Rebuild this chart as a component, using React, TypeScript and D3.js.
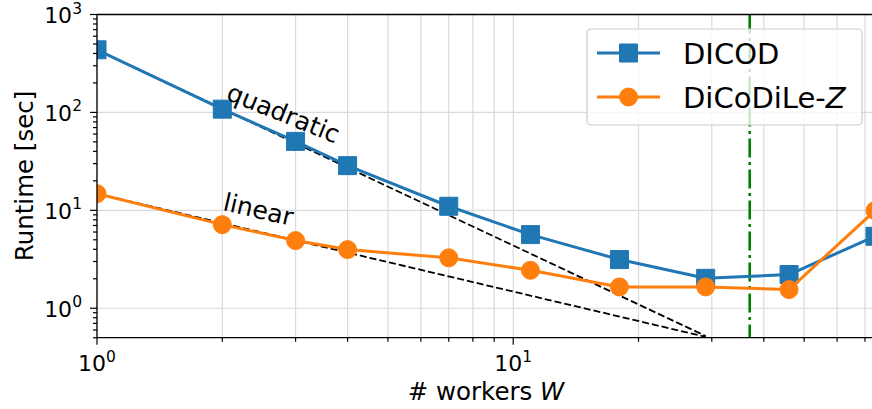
import React from "react";
import * as d3 from "d3";

// ---- data ----
const workers = [1, 2, 3, 4, 7, 11, 18, 29, 46, 74];
const dicod = [436, 108, 50.6, 28.6, 11.0, 5.65, 3.14, 2.02, 2.21, 5.43];
const dicodile = [14.8, 7.14, 4.91, 3.97, 3.27, 2.44, 1.65, 1.65, 1.55, 9.93];
const refX = [1, 29];
const quadraticRef = [436, 0.52];
const linearRef = [14.8, 0.51];
const vlineX = 37;
const xMajorTicks = [1, 10];
const xMajorExp = ["0", "1"];
const yMajorTicks = [1, 10, 100, 1000];
const yMajorExp = ["0", "1", "2", "3"];
const seriesNames = ["DICOD", "DiCoDiLe-"];

const W = 872;
const H = 409;
const L = 97;
const R = 875;
const T = 14.5;
const B = 337.7;
const FONT = "DejaVu Sans, sans-serif";
const BLUE = "#1f77b4";
const ORANGE = "#ff7f0e";

export default function App() {
  const x = d3.scaleLog().domain([1, 74]).range([L, R]);
  const y = d3.scaleLog().domain([0.5, 1000]).range([B, T]);
  const xAll = x.ticks().filter((v) => v >= 1 && v <= 74);
  const yAll = y.ticks().filter((v) => v >= 0.5 && v <= 1000);
  const isMajor = (v: number) => Math.abs(Math.log10(v) - Math.round(Math.log10(v))) < 1e-9;
  const xMinor = xAll.filter((v) => !isMajor(v));
  const yMinor = yAll.filter((v) => !isMajor(v));

  const line = d3
    .line<[number, number]>()
    .x((d) => x(d[0]))
    .y((d) => y(d[1]));
  const dicodPts = workers.map((w, i) => [w, dicod[i]] as [number, number]);
  const dicodilePts = workers.map((w, i) => [w, dicodile[i]] as [number, number]);
  const quadPts = refX.map((w, i) => [w, quadraticRef[i]] as [number, number]);
  const linPts = refX.map((w, i) => [w, linearRef[i]] as [number, number]);
  const sq = d3.symbol().type(d3.symbolSquare).size(18 * 18)();
  const ms = 18;

  return (
    <svg
      width={W}
      height={H}
      style={{ position: "absolute", left: 0, top: 0, background: "#fff" }}
      fontFamily={FONT}
    >
      <defs>
        <clipPath id="plot">
          <rect x={L} y={T} width={R - L} height={B - T} />
        </clipPath>
      </defs>
      <rect x={0} y={0} width={W} height={H} fill="#fff" />
      {/* grid */}
      <g stroke="#dadada" strokeWidth={1.2}>
        {xAll.map((v) => (
          <line key={"gx" + v} x1={x(v)} x2={x(v)} y1={T} y2={B} />
        ))}
        {yMajorTicks.map((v) => (
          <line key={"gy" + v} x1={L} x2={R} y1={y(v)} y2={y(v)} />
        ))}
      </g>
      <g clipPath="url(#plot)">
        {/* reference dashed lines */}
        <path d={line(quadPts) || ""} fill="none" stroke="#000" strokeWidth={1.8} strokeDasharray="7,3" />
        <path d={line(linPts) || ""} fill="none" stroke="#000" strokeWidth={1.8} strokeDasharray="7,3" />
        {/* vertical dash-dot line */}
        <line
          x1={x(vlineX)}
          x2={x(vlineX)}
          y1={T}
          y2={B}
          stroke="#008000"
          strokeWidth={2.6}
          strokeDasharray="19,4.5,3,4.5"
        />
        {/* DICOD */}
        <path d={line(dicodPts) || ""} fill="none" stroke={BLUE} strokeWidth={3} strokeLinejoin="round" />
        {dicodPts.map((p, i) => (
          <path key={"s" + i} d={sq || ""} transform={`translate(${x(p[0])},${y(p[1])})`} fill={BLUE} stroke={BLUE} strokeWidth={1} />
        ))}
        {/* DiCoDiLe-Z */}
        <path d={line(dicodilePts) || ""} fill="none" stroke={ORANGE} strokeWidth={3} strokeLinejoin="round" />
        {dicodilePts.map((p, i) => (
          <circle key={"c" + i} cx={x(p[0])} cy={y(p[1])} r={ms / 2} fill={ORANGE} stroke={ORANGE} strokeWidth={1} />
        ))}
      </g>
      {/* annotations */}
      <text transform={`translate(225,99) rotate(22)`} fontSize={25} fill="#000">
        quadratic
      </text>
      <text transform={`translate(222,210) rotate(13)`} fontSize={25} fill="#000">
        linear
      </text>
      {/* spines */}
      <g stroke="#000" strokeWidth={1.3} fill="none">
        <line x1={L} x2={L} y1={T} y2={B} />
        <line x1={L} x2={R} y1={B} y2={B} />
        <line x1={L} x2={R} y1={T} y2={T} />
        <line x1={R} x2={R} y1={T} y2={B} />
      </g>
      {/* ticks */}
      <g stroke="#000" strokeWidth={1.2}>
        {xMajorTicks.map((v) => (
          <line key={"xt" + v} x1={x(v)} x2={x(v)} y1={B} y2={B + 7} />
        ))}
        {xMinor.map((v) => (
          <line key={"xm" + v} x1={x(v)} x2={x(v)} y1={B} y2={B + 4} />
        ))}
        {yMajorTicks.map((v) => (
          <line key={"yt" + v} x1={L - 7} x2={L} y1={y(v)} y2={y(v)} />
        ))}
        {yMinor.map((v) => (
          <line key={"ym" + v} x1={L - 4} x2={L} y1={y(v)} y2={y(v)} />
        ))}
      </g>
      {/* tick labels */}
      <g fontSize={22} fill="#000">
        {xMajorTicks.map((v, i) => (
          <text key={"xl" + v} x={x(v)} y={371} textAnchor="middle">
            10
            <tspan fontSize={15.5} dy={-9.5}>
              {xMajorExp[i]}
            </tspan>
          </text>
        ))}
        {yMajorTicks.map((v, i) => (
          <text key={"yl" + v} x={82} y={y(v) + 8.5} textAnchor="end">
            10
            <tspan fontSize={15.5} dy={-9.5}>
              {yMajorExp[i]}
            </tspan>
          </text>
        ))}
      </g>
      {/* axis labels */}
      <text x={486} y={400} textAnchor="middle" fontSize={24.5} fill="#000">
        # workers <tspan fontStyle="italic">W</tspan>
      </text>
      <text transform="translate(33,176) rotate(-90)" textAnchor="middle" fontSize={24.5} fill="#000">
        Runtime [sec]
      </text>
      {/* legend */}
      <g>
        <rect x={587} y={29} width={275} height={96} rx={4} fill="#fff" fillOpacity={0.8} stroke="#cccccc" strokeWidth={1.2} />
        <line x1={597} x2={660} y1={53} y2={53} stroke={BLUE} strokeWidth={3} />
        <path d={sq || ""} transform="translate(628.5,53)" fill={BLUE} stroke={BLUE} strokeWidth={1} />
        <line x1={597} x2={660} y1={97} y2={97} stroke={ORANGE} strokeWidth={3} />
        <circle cx={628.5} cy={97} r={ms / 2} fill={ORANGE} stroke={ORANGE} strokeWidth={1} />
        <text x={683} y={63.5} fontSize={29} fill="#000">
          {seriesNames[0]}
        </text>
        <text x={683} y={107.5} fontSize={29} fill="#000">
          {seriesNames[1]}
          <tspan fontStyle="italic">Z</tspan>
        </text>
      </g>
    </svg>
  );
}
